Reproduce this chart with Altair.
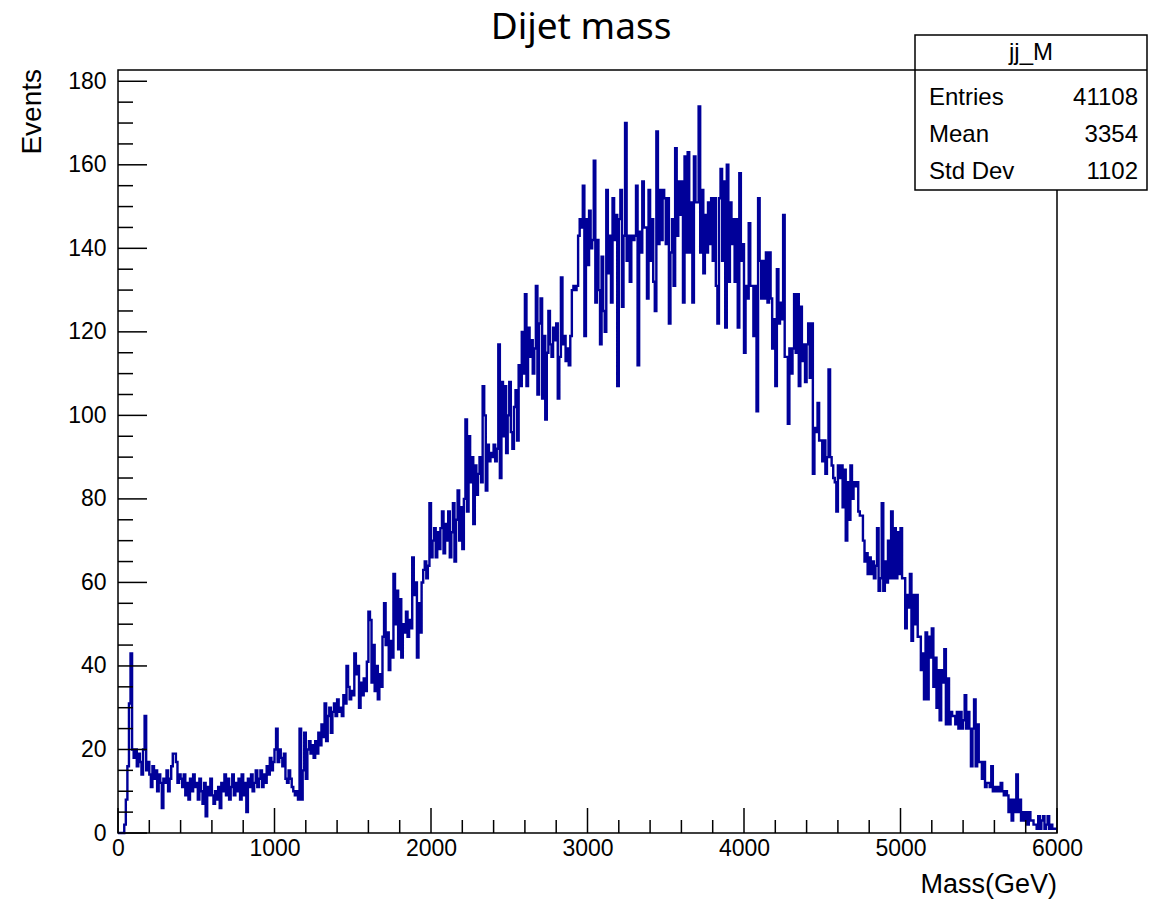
import altair as alt
import pandas as pd

# Dijet invariant mass histogram: 600 bins of 10 GeV from 0 to 6000 GeV
bin_width = 10
counts = [
    0, 0, 0, 0, 2, 8, 16, 31, 43, 20,
    18, 20, 16, 19, 17, 14, 20, 28, 15, 17,
    14, 11, 16, 13, 15, 10, 14, 12, 6, 13,
    12, 15, 10, 13, 16, 19, 19, 17, 12, 14,
    13, 11, 14, 9, 12, 8, 13, 10, 14, 11,
    12, 8, 13, 10, 7, 12, 4, 11, 9, 13,
    9, 7, 10, 8, 11, 6, 12, 10, 14, 9,
    13, 8, 11, 14, 9, 12, 10, 13, 8, 14,
    9, 12, 5, 13, 11, 14, 10, 12, 15, 11,
    13, 15, 11, 14, 12, 16, 14, 18, 15, 17,
    20, 25, 17, 20, 18, 16, 19, 13, 12, 15,
    13, 11, 10, 9, 10, 8, 25, 8, 15, 24,
    13, 20, 22, 19, 21, 18, 22, 19, 24, 21,
    26, 23, 31, 22, 28, 30, 24, 29, 31, 28,
    32, 29, 30, 28, 33, 31, 40, 35, 32, 34,
    33, 43, 38, 40, 30, 36, 33, 37, 34, 41,
    53, 51, 36, 45, 34, 40, 32, 38, 35, 47,
    55, 45, 48, 39, 46, 42, 62, 50, 58, 44,
    56, 42, 50, 48, 53, 47, 51, 49, 66, 57,
    60, 42, 55, 48, 60, 63, 65, 61, 64, 79,
    66, 70, 73, 66, 72, 68, 73, 77, 67, 74,
    70, 77, 66, 72, 79, 65, 75, 82, 70, 78,
    68, 80, 99, 77, 95, 84, 90, 74, 88, 81,
    86, 90, 84, 107, 100, 82, 93, 89, 91, 90,
    93, 89, 92, 117, 85, 108, 95, 107, 91, 100,
    108, 96, 92, 102, 106, 94, 112, 107, 120, 110,
    129, 107, 121, 114, 118, 110, 116, 131, 105, 122,
    128, 104, 119, 99, 115, 125, 117, 114, 121, 118,
    122, 104, 114, 133, 117, 119, 113, 116, 112, 119,
    130, 131, 130, 131, 143, 147, 145, 155, 119, 147,
    136, 149, 140, 142, 161, 127, 142, 130, 117, 138,
    125, 120, 154, 134, 143, 127, 152, 142, 148, 107,
    147, 154, 126, 143, 170, 137, 143, 132, 143, 142,
    143, 155, 112, 144, 139, 156, 145, 145, 128, 154,
    137, 147, 132, 125, 168, 141, 154, 142, 154, 152,
    141, 152, 122, 139, 147, 131, 164, 143, 156, 148,
    156, 127, 162, 139, 163, 139, 151, 127, 162, 151,
    151, 174, 139, 154, 134, 148, 139, 151, 141, 152,
    137, 152, 131, 122, 152, 159, 137, 156, 121, 160,
    132, 151, 141, 147, 132, 147, 121, 158, 137, 141,
    115, 131, 128, 146, 131, 131, 119, 131, 101, 152,
    137, 128, 137, 128, 139, 127, 139, 128, 116, 123,
    107, 135, 122, 127, 123, 148, 114, 114, 98, 116,
    110, 116, 129, 115, 129, 107, 126, 113, 117, 108,
    117, 122, 109, 122, 86, 97, 96, 103, 94, 94,
    89, 94, 86, 90, 111, 90, 88, 85, 84, 77,
    88, 85, 88, 78, 87, 70, 84, 75, 88, 80,
    84, 83, 84, 77, 76, 76, 70, 65, 67, 62,
    66, 62, 65, 61, 64, 73, 58, 61, 79, 58,
    65, 60, 70, 61, 77, 61, 73, 61, 72, 62,
    73, 61, 61, 49, 57, 54, 62, 46, 57, 50,
    57, 47, 47, 39, 43, 32, 48, 32, 47, 42,
    49, 35, 42, 30, 39, 27, 39, 36, 44, 26,
    37, 26, 29, 28, 28, 26, 29, 25, 29, 25,
    27, 33, 25, 29, 25, 16, 25, 32, 16, 26,
    17, 17, 13, 17, 11, 12, 12, 11, 16, 10,
    11, 10, 11, 10, 12, 10, 9, 10, 9, 5,
    8, 3, 8, 5, 14, 5, 8, 3, 5, 3,
    5, 2, 5, 3, 3, 2, 2, 1, 4, 1,
    3, 4, 1, 2, 4, 1, 2, 1, 1, 1,
]

x_tick_labels = [0, 1000, 2000, 3000, 4000, 5000, 6000]
y_tick_labels = [0, 20, 40, 60, 80, 100, 120, 140, 160, 180]

stats_name = "jj_M"
stats_rows = ["Entries", "Mean", "Std Dev"]
stats_vals = ["41108", "3354", "1102"]

X_MAX = 6000
Y_MAX = 182.7
W, H = 939, 763
FONT = "Liberation Sans"
LINE_COLOR = "#000099"

# step outline: each bin's left edge, plus the closing right edge
edges = [i * bin_width for i in range(len(counts))] + [len(counts) * bin_width]
heights = counts + [counts[-1]]
hist = pd.DataFrame({"mass": edges, "events": heights})

xscale = alt.Scale(domain=[0, X_MAX], nice=False, zero=False)
yscale = alt.Scale(domain=[0, Y_MAX], nice=False, zero=False)

x_axis = alt.Axis(values=x_tick_labels, ticks=False, domain=False, grid=False,
                  labelFont=FONT, labelFontSize=23, labelColor="black", format="d",
                  labelPadding=4, title=None, labelFlush=False)
y_axis = alt.Axis(values=y_tick_labels, ticks=False, domain=False, grid=False,
                  labelFont=FONT, labelFontSize=23, labelColor="black", format="d",
                  labelPadding=12, title=None)

line = alt.Chart(hist).mark_line(
    interpolate="step-after", color=LINE_COLOR, strokeWidth=2.4
).encode(
    x=alt.X("mass:Q", scale=xscale, axis=x_axis),
    y=alt.Y("events:Q", scale=yscale, axis=y_axis),
)

# inward-pointing tick marks, ROOT style
y_major = pd.DataFrame({"v": y_tick_labels})
y_minor = pd.DataFrame({"v": [v for v in range(0, 181, 5) if v % 20 != 0]})
x_major = pd.DataFrame({"v": x_tick_labels})
x_minor = pd.DataFrame({"v": [v for v in range(0, 6001, 200) if v % 1000 != 0]})

def ytick(df, length):
    return alt.Chart(df).mark_rule(color="black", strokeWidth=1.5).encode(
        y=alt.Y("v:Q", scale=yscale, axis=y_axis),
        x=alt.value(0), x2=alt.value(length))

def xtick(df, length):
    return alt.Chart(df).mark_rule(color="black", strokeWidth=1.5).encode(
        x=alt.X("v:Q", scale=xscale, axis=x_axis),
        y=alt.value(H), y2=alt.value(H - length))

ticks = [ytick(y_major, 29), ytick(y_minor, 15), xtick(x_major, 25), xtick(x_minor, 13)]

one = pd.DataFrame({"t": [0]})

def label(text, x, y, size=22, align="left", angle=0, font=FONT, baseline="middle"):
    return alt.Chart(one).mark_text(
        text=text, fontSize=size, font=font, align=align, baseline=baseline,
        angle=angle, color="black"
    ).encode(x=alt.value(x), y=alt.value(y))

title = label("Dijet mass", 463, -42, size=37, align="center", font="Noto Sans")
xtitle = label("Mass(GeV)", W, 815, size=27, align="right")
ytitle = label("Events", -85, -1, size=28, align="right", angle=270)

# statistics box
box = alt.Chart(one).mark_rect(fill="white", stroke="black", strokeWidth=1.5).encode(
    x=alt.value(797), x2=alt.value(1029), y=alt.value(-35), y2=alt.value(120))
box_line = alt.Chart(one).mark_rule(color="black", strokeWidth=1.5).encode(
    x=alt.value(797), x2=alt.value(1029), y=alt.value(0))
stats = [label(stats_name, 913, -17, size=24, align="center")]
for i, (name, val) in enumerate(zip(stats_rows, stats_vals)):
    yy = 28 + 37 * i
    stats.append(label(name, 811, yy, size=24))
    stats.append(label(val, 1020, yy, size=24, align="right"))

chart = alt.layer(
    line, *ticks, title, xtitle, ytitle, box, box_line, *stats
).properties(
    width=W, height=H,
    autosize=alt.AutoSizeParams(type="none"),
    padding={"left": 118, "top": 70, "right": 104, "bottom": 72},
    background="white",
).configure_view(stroke="black", strokeWidth=1.5)

chart.save("out.html", embed_options={"renderer": "svg", "actions": False})
